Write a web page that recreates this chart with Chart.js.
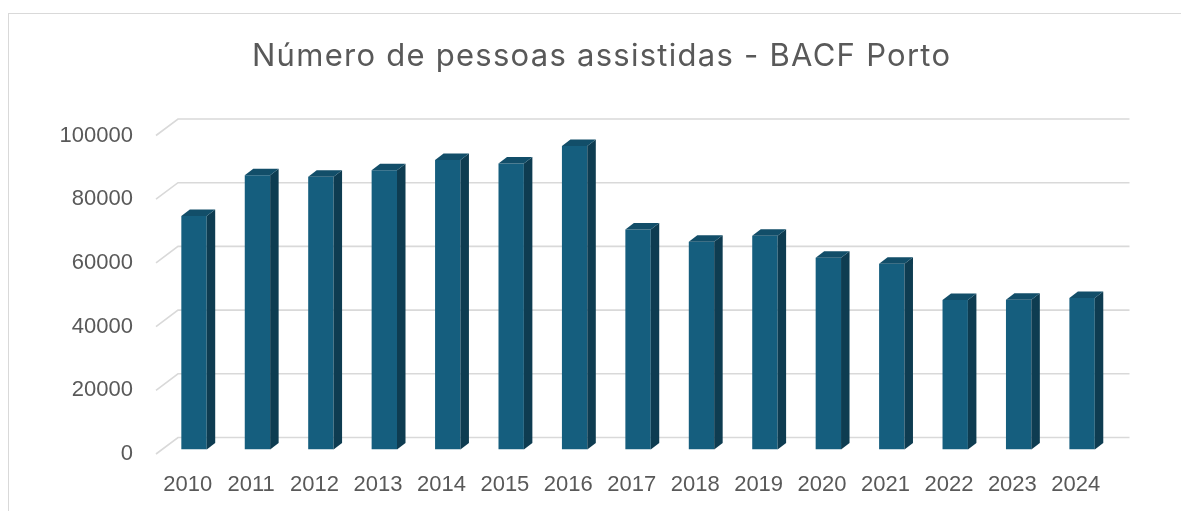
<!DOCTYPE html>
<html>
<head>
<meta charset="utf-8">
<script src="https://cdn.jsdelivr.net/npm/chart.js@4.4.1/dist/chart.umd.min.js"></script>
<style>
  html, body { margin: 0; padding: 0; background: #ffffff; }
  #wrap { position: relative; width: 1181px; height: 511px; overflow: hidden; }
  #frame { position: absolute; left: 8px; top: 13px; width: 1200px; height: 600px; border: 1px solid #d9d9d9; box-sizing: border-box; }
  canvas { position: absolute; left: 0; top: 0; }
</style>
</head>
<body>
<div id="wrap">
  <div id="frame"></div>
  <canvas id="c" width="1181" height="511"></canvas>
</div>
<script>
const chartTitle = "Número de pessoas assistidas - BACF Porto";
const years = ["2010","2011","2012","2013","2014","2015","2016","2017","2018","2019","2020","2021","2022","2023","2024"];
const assisted = [73300, 86100, 85600, 87700, 90900, 89800, 95300, 69100, 65200, 67100, 60200, 58300, 46900, 47000, 47600];
const yTicks = [0, 20000, 40000, 60000, 80000, 100000];

const FRONT = '#155e7e';
const SIDE = '#0e3c51';
const TOP = '#124e69';
const GRID = '#d9d9d9';
const TEXT = '#595959';
const WALL_DX = 22, WALL_DY = 16.5;   // depth of the floor / back wall
const BAR_DX = 6.3, BAR_DY = 4.5;     // bar position inside the depth
const BAR_DEPTH_X = 8.5, BAR_DEPTH_Y = 6.5;

const threeD = {
  id: 'threeD',
  beforeDatasetsDraw(chart) {
    const ctx = chart.ctx;
    const y = chart.scales.y;
    const a = chart.chartArea;
    ctx.save();
    ctx.strokeStyle = GRID;
    ctx.lineWidth = 1.6;
    y.ticks.forEach(t => {
      const py = y.getPixelForValue(t.value);
      ctx.beginPath();
      ctx.moveTo(a.left, py);
      ctx.lineTo(a.left + WALL_DX, py - WALL_DY);
      ctx.lineTo(a.right + WALL_DX, py - WALL_DY);
      ctx.stroke();
    });
    ctx.restore();
    ctx.save();
    ctx.translate(BAR_DX, -BAR_DY);
  },
  afterDatasetsDraw(chart) {
    const ctx = chart.ctx;
    const meta = chart.getDatasetMeta(0);
    meta.data.forEach(el => {
      const p = el.getProps(['x', 'y', 'base', 'width'], true);
      const l = p.x - p.width / 2, r = p.x + p.width / 2;
      ctx.fillStyle = SIDE;
      ctx.beginPath();
      ctx.moveTo(r, p.y);
      ctx.lineTo(r + BAR_DEPTH_X, p.y - BAR_DEPTH_Y);
      ctx.lineTo(r + BAR_DEPTH_X, p.base - BAR_DEPTH_Y);
      ctx.lineTo(r, p.base);
      ctx.closePath();
      ctx.fill();
      ctx.fillStyle = TOP;
      ctx.beginPath();
      ctx.moveTo(l, p.y);
      ctx.lineTo(l + BAR_DEPTH_X, p.y - BAR_DEPTH_Y);
      ctx.lineTo(r + BAR_DEPTH_X, p.y - BAR_DEPTH_Y);
      ctx.lineTo(r, p.y);
      ctx.closePath();
      ctx.fill();
    });
    ctx.restore();
  }
};

const titlePlugin = {
  id: 'wideTitle',
  afterDraw(chart) {
    const ctx = chart.ctx;
    ctx.save();
    ctx.font = 'normal 31px Inter, "Liberation Sans", sans-serif';
    ctx.fillStyle = TEXT;
    ctx.textBaseline = 'alphabetic';
    ctx.textAlign = 'left';
    const targetW = 698;
    const w0 = ctx.measureText(chartTitle).width;
    const n = [...chartTitle].length;
    const ls = (targetW - w0) / (n - 1);
    if ('letterSpacing' in ctx) ctx.letterSpacing = ls + 'px';
    ctx.fillText(chartTitle, 601 - targetW / 2, 66);
    ctx.restore();
  }
};

new Chart(document.getElementById('c'), {
  type: 'bar',
  data: {
    labels: years,
    datasets: [{
      data: assisted,
      backgroundColor: FRONT,
      borderWidth: 0,
      barPercentage: 0.40,
      categoryPercentage: 1.0
    }]
  },
  options: {
    responsive: false,
    animation: false,
    layout: { padding: { left: 0, right: 73.5, top: 135.5, bottom: 0 } },
    plugins: {
      legend: { display: false },
      tooltip: { enabled: false },
      title: { display: false }
    },
    scales: {
      x: {
        grid: { display: false, drawTicks: false },
        border: { display: false },
        ticks: {
          color: TEXT,
          padding: 18,
          maxRotation: 0,
          font: { family: 'Liberation Sans, Arial, sans-serif', size: 22 }
        },
        afterFit(s) { s.height = 57; }
      },
      y: {
        min: 0,
        max: 100000,
        afterBuildTicks(s) { s.ticks = yTicks.map(v => ({ value: v })); },
        grid: { display: false, drawTicks: false },
        border: { display: false },
        ticks: {
          color: TEXT,
          padding: 23,
          callback: v => String(v),
          font: { family: 'Liberation Sans, Arial, sans-serif', size: 22 }
        },
        afterFit(s) { s.width = 156; }
      }
    }
  },
  plugins: [threeD, titlePlugin]
});
</script>
</body>
</html>
